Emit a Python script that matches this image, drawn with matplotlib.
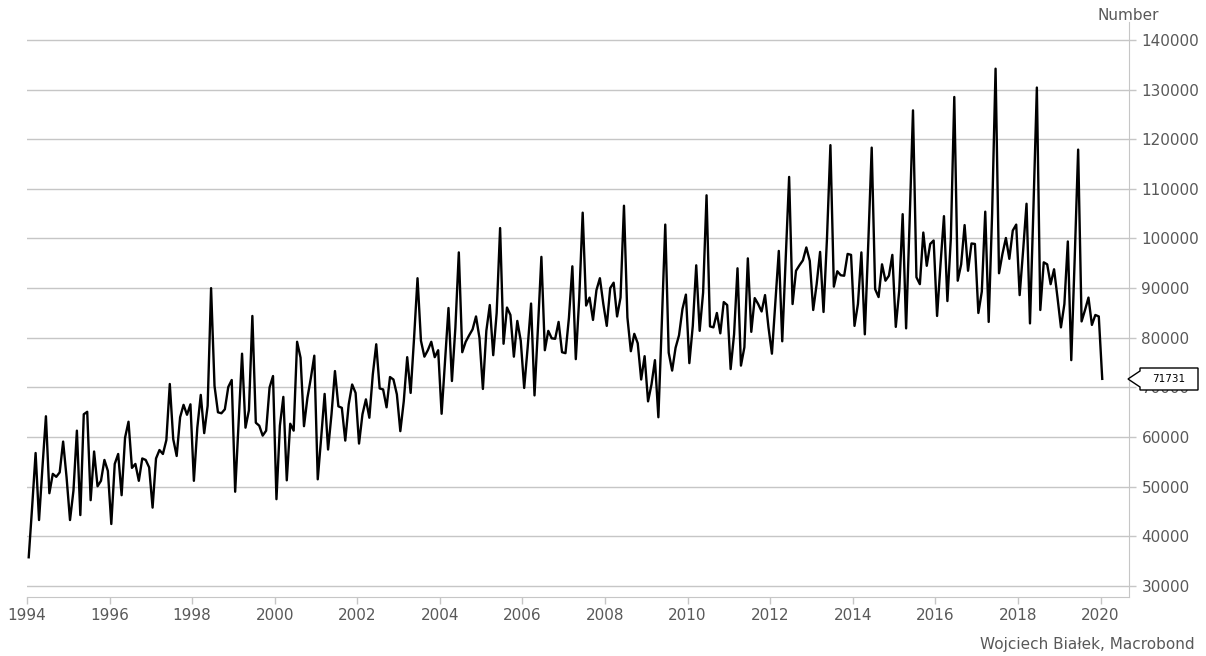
import numpy as np
import matplotlib
matplotlib.use("Agg")
import matplotlib.pyplot as plt
from matplotlib.patches import Polygon

# monthly values, Jan 1994 .. Jan 2020
y1994 = [35800, 46000, 56800, 43300, 54000, 64200, 48700, 52600, 52000, 52900, 59100, 51900]
y1995 = [43300, 49200, 61300, 44300, 64600, 65100, 47300, 57100, 50100, 51200, 55400, 53200]
y1996 = [42500, 54600, 56600, 48300, 59900, 63100, 53800, 54600, 51200, 55700, 55400, 53900]
y1997 = [45800, 55700, 57400, 56600, 59400, 70700, 59600, 56200, 64000, 66500, 64500, 66600]
y1998 = [51200, 61900, 68500, 60800, 66300, 90000, 70300, 65000, 64800, 65600, 70100, 71500]
y1999 = [49000, 62700, 76800, 61900, 65400, 84400, 62900, 62300, 60300, 61300, 70000, 72300]
y2000 = [47500, 62300, 68100, 51300, 62700, 61300, 79200, 76000, 62200, 67900, 71900, 76400]
y2001 = [51500, 59900, 68700, 57500, 64600, 73300, 66200, 65900, 59300, 66600, 70600, 68900]
y2002 = [58700, 64600, 67600, 63900, 72600, 78700, 69800, 69600, 66000, 72100, 71600, 68600]
y2003 = [61200, 67200, 76100, 68900, 80000, 92000, 79400, 76200, 77500, 79200, 76100, 77500]
y2004 = [64700, 75300, 86000, 71300, 82000, 97200, 77100, 79200, 80500, 81700, 84300, 80000]
y2005 = [69700, 81400, 86600, 76500, 85000, 102100, 78800, 86100, 84600, 76200, 83400, 79400]
y2006 = [69900, 78000, 86900, 68400, 82000, 96300, 77500, 81400, 79900, 79800, 83200, 77100]
y2007 = [76900, 84000, 94400, 75700, 88000, 105200, 86500, 88100, 83600, 89600, 92000, 86800]
y2008 = [82400, 90000, 91100, 84300, 88100, 106600, 84100, 77300, 80800, 78900, 71600, 76300]
y2009 = [67200, 70600, 75500, 64000, 83000, 102800, 77000, 73400, 78000, 80500, 85800, 88700]
y2010 = [74900, 82400, 94600, 81400, 89100, 108700, 82300, 82100, 85000, 80900, 87200, 86600]
y2011 = [73700, 80700, 94000, 74400, 78100, 96000, 81200, 88000, 86800, 85300, 88600, 82100]
y2012 = [76800, 87000, 97500, 79300, 96000, 112400, 86800, 93500, 94600, 95600, 98200, 95500]
y2013 = [85600, 90800, 97300, 85200, 100000, 118800, 90300, 93400, 92600, 92500, 96900, 96700]
y2014 = [82400, 86800, 97200, 80700, 99000, 118300, 89800, 88200, 94800, 91500, 92500, 96700]
y2015 = [82200, 89500, 104900, 81900, 103000, 125800, 92200, 90800, 101200, 94500, 98900, 99600]
y2016 = [84400, 94800, 104500, 87400, 100000, 128500, 91500, 94800, 102700, 93500, 99000, 98900]
y2017 = [85000, 89300, 105400, 83200, 105000, 134200, 93000, 96900, 100100, 95900, 101600, 102800]
y2018 = [88600, 97500, 107000, 82900, 106000, 130400, 85600, 95200, 94800, 90800, 93800, 88100]
y2019 = [82100, 86800, 99400, 75500, 96000, 117900, 83300, 85600, 88100, 82600, 84600, 84300]
y2020 = [71731]

values = (y1994 + y1995 + y1996 + y1997 + y1998 + y1999 + y2000 + y2001 + y2002 + y2003
          + y2004 + y2005 + y2006 + y2007 + y2008 + y2009 + y2010 + y2011 + y2012 + y2013
          + y2014 + y2015 + y2016 + y2017 + y2018 + y2019 + y2020)
dates = 1994 + (np.arange(len(values)) + 0.5) / 12.0

x_ticks = list(range(1994, 2021, 2))
y_ticks = list(range(30000, 140001, 10000))
last_label = "71731"

grey = "#595959"
grid_c = "#c6c6c6"

fig = plt.figure(figsize=(12.06, 6.56), dpi=100)
ax = fig.add_axes([27 / 1206, 59 / 656, (1129 - 27) / 1206, (597 - 22) / 656])

for v in y_ticks:
    ax.axhline(v, color=grid_c, lw=1.0, zorder=1)
ax.plot(dates, values, color="black", lw=1.7, zorder=3)

ax.set_xlim(1994.0, 2020.69)
ax.set_ylim(27800, 143600)

ax.yaxis.tick_right()
ax.set_yticks(y_ticks)
ax.set_yticklabels([str(v) for v in y_ticks])
ax.set_xticks(x_ticks)
ax.set_xticklabels([str(v) for v in x_ticks])
ax.tick_params(axis="y", colors=grid_c, labelcolor=grey, labelsize=11, length=5, width=1, pad=4)
ax.tick_params(axis="x", colors=grid_c, labelcolor=grey, labelsize=11, length=5, width=1, pad=3)

for s in ["top", "left"]:
    ax.spines[s].set_visible(False)
ax.spines["right"].set_color(grid_c)
ax.spines["bottom"].set_color(grid_c)

fig.text(1128 / 1206, 1 - 16 / 656, "Number", ha="center", va="center", color=grey, fontsize=11)
fig.text(1195 / 1206, 1 - 645 / 656, "Wojciech Białek, Macrobond", ha="right", va="center",
         color=grey, fontsize=11)

# value callout for the last point
yl = 1 - 379 / 656
box = Polygon([(1128 / 1206, yl), (1140 / 1206, yl + 8 / 656), (1140 / 1206, yl + 11 / 656),
               (1198 / 1206, yl + 11 / 656), (1198 / 1206, yl - 11 / 656),
               (1140 / 1206, yl - 11 / 656), (1140 / 1206, yl - 8 / 656)],
              closed=True, transform=fig.transFigure, fc="white", ec="black", lw=1, zorder=5)
fig.patches.append(box)
fig.text(1169 / 1206, yl, last_label, ha="center", va="center", fontsize=7.5, color="black", zorder=6)

fig.savefig("out.png", dpi=100)
